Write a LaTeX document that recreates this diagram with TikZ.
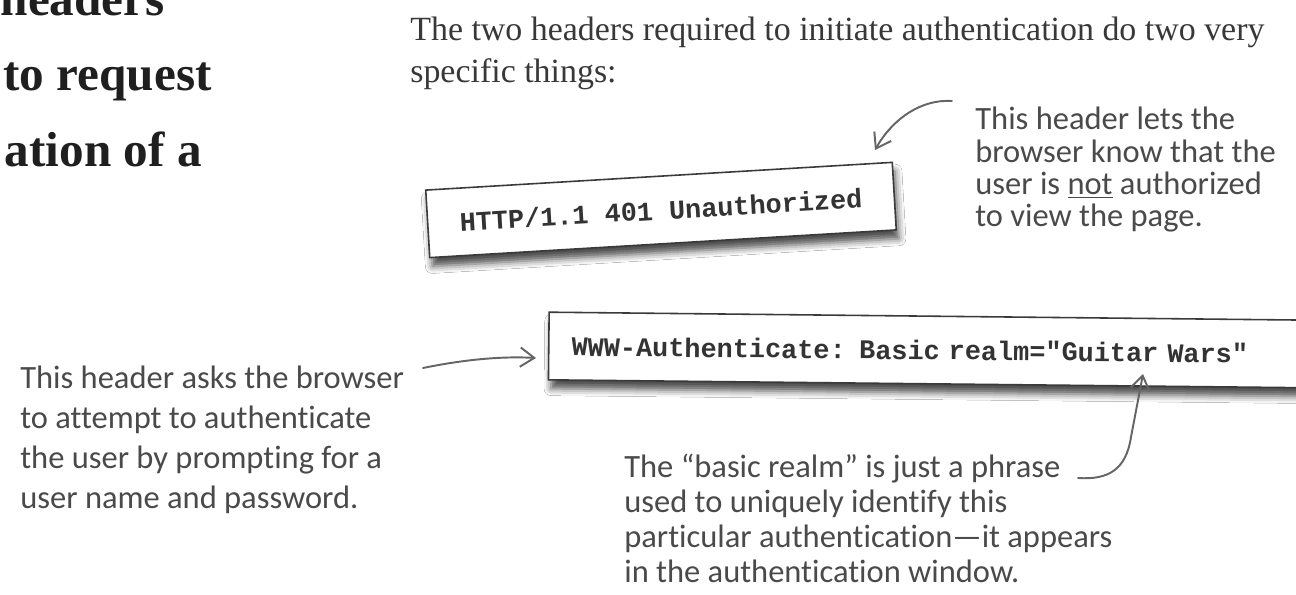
\documentclass[tikz,border=0pt]{standalone}
\usepackage{fontspec}
\setmainfont{Liberation Serif}
\newfontfamily\manofont[Ligatures={NoCommon,NoRequired,NoContextual}]{Carlito}
\newfontfamily\codigofont{Liberation Mono}
\usetikzlibrary{positioning, arrows.meta, shadows.blur}

\definecolor{tinta}{HTML}{4A4A4A}
\definecolor{borde}{HTML}{3A3A3A}

\begin{document}
\begin{tikzpicture}[
		% Unidad = 1 pixel de la imagen, eje y hacia abajo
		x=0.02cm, y=-0.02cm,
		% Estilos de texto
		titulo_est/.style={font=\fontsize{28}{34}\selectfont\bfseries, text=black!88, inner sep=0pt},
		parrafo_est/.style={font=\fontsize{19.3}{23.5}\selectfont, text=black!78, align=left, inner sep=0pt},
		nota/.style={font=\manofont\fontsize{18.5}{#1}\selectfont, text=tinta, align=left, inner sep=0pt},
		nota/.default=21.5pt,
		% Estilo de cajas de cabecera
		cabecera_box/.style={draw=borde, line width=0.9pt, fill=white, rectangle, minimum height=38.5pt, font=\codigofont\bfseries\fontsize{15.3}{18}\selectfont, text=black!80,
			blur shadow={shadow xshift=1.5pt, shadow yshift=-5pt, shadow blur radius=4pt, shadow opacity=70}},
		% Estilo de flechas a mano
		flecha/.style={-{Straight Barb[length=8pt, width=11pt, line width=1.1pt]}, line width=1.1pt, draw=tinta!85, line cap=round}
		]
		
		\useasboundingbox (0,0) rectangle (1296,595);
		\clip (0,0) rectangle (1296,595);
		\fill[white] (0,0) rectangle (1296,595);
		
		% --- TITULO CORTADO (IZQUIERDA) ---
		\node[titulo_est, anchor=base east] (tit1) at (165,15) {headers};
		\node[titulo_est, anchor=base east] (tit2) at (212,91) {to request};
		\node[titulo_est, anchor=base east] (tit3) at (202,166) {ation of a};
		
		% --- PARRAFO ---
		\node[parrafo_est, anchor=north west] (parrafo) at (410,17) {The two headers required to initiate authentication do two very\\ specific things:};
		
		% --- CABECERAS ---
		\node[cabecera_box, minimum width=266pt, rotate=3.4] (unauth) at (661,210) {HTTP/1.1 401 Unauthorized};
		\node[cabecera_box, anchor=west, text width=419.6pt, inner xsep=13pt, align=left, rotate=-0.6] (wwwauth) at (548,346) {WWW-Authenticate: Basic realm="Guitar Wars"};
		
		% --- NOTAS A MANO ---
		\node[nota=18.3pt, anchor=north west] (nota_unauth) at (975,107) {This header lets the\\ browser know that the\\ user is \underline{not} authorized\\ to view the page.};
		\node[nota=22.7pt, anchor=north west] (nota_www) at (20,366) {This header asks the browser\\ to attempt to authenticate\\ the user by prompting for a\\ user name and password.};
		\node[nota=19.8pt, anchor=north west] (nota_realm) at (624,454) {The “basic realm” is just a phrase\\ used to uniquely identify this\\ particular authentication—it appears\\ in the authentication window.};
		
		% Extremos de las flechas
		\coordinate (f1_ini) at (952,101);
		\coordinate (f1_fin) at (875,150);
		\coordinate (f2_ini) at (423,368);
		\coordinate (f2_fin) at (536,358);
		\coordinate (f3_ini) at (1078,478);
		\coordinate (f3_fin) at (1143,374);
		
		% --- FLECHAS ---
		\draw[flecha] (f1_ini) .. controls (922,99) and (893,118) .. (f1_fin);
		\draw[flecha] (f2_ini) .. controls (462,360) and (500,356) .. (f2_fin);
		\draw[flecha] (f3_ini) .. controls (1108,480) and (1126,470) .. (1131,437) -- (f3_fin);
		
	\end{tikzpicture}
\end{document}
